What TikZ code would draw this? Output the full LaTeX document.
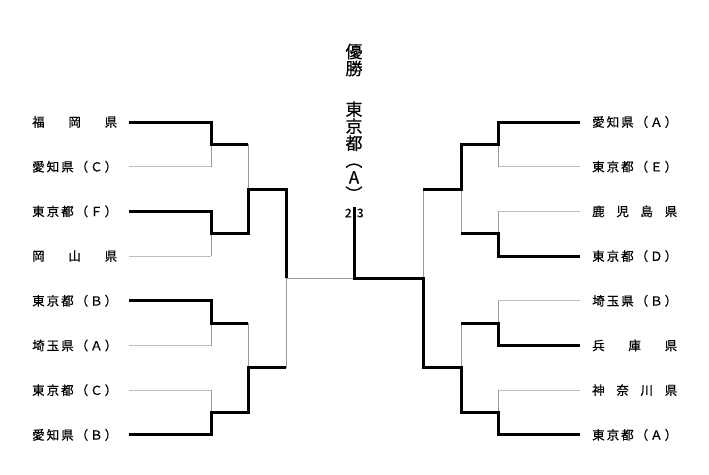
\documentclass[tikz,border=0pt]{standalone}
\usepackage{fontspec}
\setmainfont{Noto Sans CJK JP}[FakeBold=0.6]

% spread the characters of a team name over a fixed width
\newcommand\teamname[1]{\hbox to 85pt{\spreadchars#1\relax}}
\def\spreadchars#1#2{#1\ifx\relax#2\else\hfil\expandafter\spreadchars\expandafter#2\fi}

\tikzset{
  team/.style={anchor=west, inner sep=0pt, font=\fontsize{12.5}{14}\selectfont},
  title/.style={inner sep=0pt, align=center, font=\fontsize{17}{17}\selectfont},
  score/.style={inner sep=0pt, font=\fontsize{12}{13}\selectfont},
  winline/.style={line width=3pt, line join=miter, black},
  thinline/.style={line width=1pt, gray!80},
  loseline/.style={line width=1pt, gray!50}
}

\begin{document}
\begin{tikzpicture}[x=1pt, y=-1pt]
\useasboundingbox (0,0) rectangle (709,474);

%LEFT TEAMS
\node[team] (l1) at (32,122) {\teamname{福岡県}};
\node[team] (l2) at (32,166.7) {\teamname{愛知県（Ｃ）}};
\node[team] (l3) at (32,211.4) {\teamname{東京都（Ｆ）}};
\node[team] (l4) at (32,256.1) {\teamname{岡山県}};
\node[team] (l5) at (32,300.8) {\teamname{東京都（Ｂ）}};
\node[team] (l6) at (32,345.5) {\teamname{埼玉県（Ａ）}};
\node[team] (l7) at (32,390.2) {\teamname{東京都（Ｃ）}};
\node[team] (l8) at (32,434.9) {\teamname{愛知県（Ｂ）}};

%RIGHT TEAMS
\node[team] (r1) at (592,122) {\teamname{愛知県（Ａ）}};
\node[team] (r2) at (592,166.7) {\teamname{東京都（Ｅ）}};
\node[team] (r3) at (592,211.4) {\teamname{鹿児島県}};
\node[team] (r4) at (592,256.1) {\teamname{東京都（Ｄ）}};
\node[team] (r5) at (592,300.8) {\teamname{埼玉県（Ｂ）}};
\node[team] (r6) at (592,345.5) {\teamname{兵庫県}};
\node[team] (r7) at (592,390.2) {\teamname{神奈川県}};
\node[team] (r8) at (592,434.9) {\teamname{東京都（Ａ）}};

%THIN BRACKET
\foreach \n in {l1,l2,l3,l4,l5,l6,l7,l8}
  \draw[loseline] ([xshift=12pt]\n.east) -- +(82,0);
\foreach \n in {r1,r2,r3,r4,r5,r6,r7,r8}
  \draw[loseline] ([xshift=-12pt]\n.west) -- +(-82,0);

\draw[thinline] (211,122)--(211,166.7);
\draw[thinline] (211,211.4)--(211,256.1);
\draw[thinline] (211,300.8)--(211,345.5);
\draw[thinline] (211,390.2)--(211,434.9);
\draw[thinline] (248,144.35)--(248,233.75);
\draw[thinline] (248,323.15)--(248,412.55);
\draw[thinline] (286,189.05)--(286,367.85);

\draw[thinline] (498,122)--(498,166.7);
\draw[thinline] (498,211.4)--(498,256.1);
\draw[thinline] (498,300.8)--(498,345.5);
\draw[thinline] (498,390.2)--(498,434.9);
\draw[thinline] (461,144.35)--(461,233.75);
\draw[thinline] (461,323.15)--(461,412.55);
\draw[thinline] (423,189.05)--(423,367.85);

\draw[thinline] (286,278.45)--(423,278.45);

%WINNERS LEFT
\draw[winline] ([xshift=12pt]l1.east) -| (211,144.35) -- (248,144.35);
\draw[winline] ([xshift=12pt]l3.east) -| (211,233.75) -| (248,189.05) -| (286,278.45);
\draw[winline] ([xshift=12pt]l5.east) -| (211,323.15) -- (248,323.15);
\draw[winline] ([xshift=12pt]l8.east) -| (211,412.55) -| (248,367.85) -- (286,367.85);

%WINNERS RIGHT
\draw[winline] ([xshift=-12pt]r1.west) -| (498,144.35) -| (461,189.05) -- (423,189.05);
\draw[winline] ([xshift=-12pt]r4.west) -| (498,233.75) -- (461,233.75);
\draw[winline] ([xshift=-12pt]r6.west) -| (498,323.15) -- (461,323.15);
\draw[winline] ([xshift=-12pt]r8.west) -| (498,412.55) -| (461,367.85) -| (423,278.45) -- (354,278.45) -- (354,207);

%TITLE AND SCORE
\node[title] (yusho) at (354,60) {優\\勝};
\node[title] (champ) at (354,151) {東\\京\\都\\︵\\A\\︶};
\node[score] (s2) at (348.3,213) {2};
\node[score] (s3) at (360.3,213) {3};

\end{tikzpicture}
\end{document}
